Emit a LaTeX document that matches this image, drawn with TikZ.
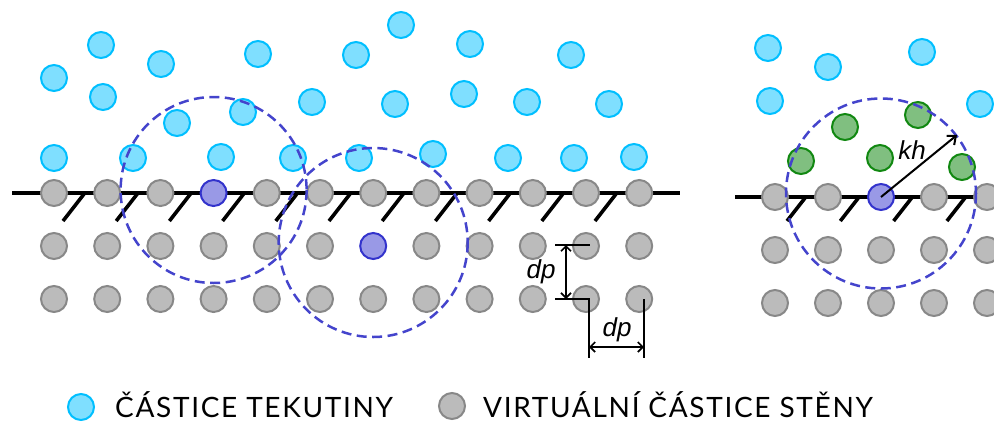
\documentclass[tikz,border=0pt]{standalone}
\usepackage{fontspec}
\setmainfont{Lato}[LetterSpace=6]
\newfontfamily\labelfont{Liberation Sans}
\usetikzlibrary{arrows.meta}
\definecolor{fluidfill}{HTML}{7FDFFF}
\definecolor{fluiddraw}{HTML}{00BFFF}
\definecolor{wallfill}{HTML}{BBBBBB}
\definecolor{walldraw}{HTML}{888888}
\definecolor{bluefill}{HTML}{9999E6}
\definecolor{bluedraw}{HTML}{3333CC}
\definecolor{greenfill}{HTML}{80BF80}
\definecolor{greendraw}{HTML}{118811}
\definecolor{rangecol}{HTML}{4444CC}
\tikzset{
  particle/.style={circle, minimum size=26pt, inner sep=0pt, line width=2pt},
  fluid/.style={particle, fill=fluidfill, draw=fluiddraw},
  wallp/.style={particle, fill=wallfill, draw=walldraw},
  focus/.style={particle, fill=bluefill, draw=bluedraw},
  neigh/.style={particle, fill=greenfill, draw=greendraw},
  wallline/.style={line width=3.6pt, black},
  hatchline/.style={line width=3.6pt, black},
  supportcircle/.style={draw=rangecol, dash pattern=on 10pt off 5.5pt, line width=2.5pt},
  dimline/.style={line width=1.7pt, black},
  dimarrow/.style={line width=1.7pt, black, {Straight Barb[length=5pt,width=10pt]}-{Straight Barb[length=5pt,width=10pt]}},
  radarrow/.style={line width=2pt, black, -{Straight Barb[length=7pt,width=12pt]}},
  lab/.style={font=\labelfont\itshape\fontsize{26}{26}\selectfont, inner sep=0pt},
  legendtext/.style={font=\fontsize{28}{28}\selectfont, inner sep=0pt, anchor=base west},
}
\begin{document}
\begin{tikzpicture}[x=1pt, y=-1pt]
\useasboundingbox (0,0) rectangle (994,424);
\clip (0,0) rectangle (994,424);

% ---------- left panel: wall ----------
\coordinate (wl1) at (12,193);
\coordinate (wl2) at (680,193);
\draw[wallline] (wl1) -- (wl2);
\foreach \k in {0,...,10}
  \draw[hatchline] ({63+53.2*\k},221) -- ({84+53.2*\k},194);

% ---------- right panel: wall ----------
\coordinate (wr1) at (735,197);
\coordinate (wr2) at (994,197);
\draw[wallline] (wr1) -- (wr2);
\foreach \k in {0,...,3}
  \draw[hatchline] ({787+53.3*\k},221) -- ({805+53.3*\k},198);

% ---------- left panel: wall particles ----------
\foreach \r/\y in {1/193,2/246,3/299}
  \foreach \c in {1,...,12}{
    \ifnum\r\c=14 \def\pst{focus}\else\ifnum\r\c=27 \def\pst{focus}\else\def\pst{wallp}\fi\fi
    \node[\pst] (g-\r-\c) at ({54+53.2*(\c-1)},\y) {};
  }

% ---------- right panel: wall particles ----------
\foreach \r/\y in {1/197,2/250,3/303}
  \foreach \c in {1,...,5}{
    \ifnum\r\c=13 \def\pst{focus}\else\def\pst{wallp}\fi
    \node[\pst] (h-\r-\c) at ({775+53*(\c-1)},\y) {};
  }

% ---------- fluid particles ----------
\foreach \x/\y [count=\i] in {54/78,101/45,161/64,103/97,177/123,258/54,243/112,
   356/55,401/25,470/44,312/102,395/104,464/94,54/158,133/158,221/157,293/158,
   359/158,433/154,508/158,571/55,527/102,609/104,574/158,634/157,
   768/48,828/67,922/52,770/101,980/104}
  \node[fluid] (f\i) at (\x,\y) {};

% ---------- neighbour particles ----------
\foreach \x/\y [count=\i] in {801/161,845/127,918/115,880/158,962/167}
  \node[neigh] (n\i) at (\x,\y) {};

% ---------- support domains ----------
\draw[supportcircle] ([yshift=3pt]g-1-4.center) circle[radius=93];
\draw[supportcircle] ([yshift=3.5pt]g-2-7.center) circle[radius=94.5];
\draw[supportcircle] ([yshift=3.5pt]h-1-3.center) circle[radius=95];

% ---------- kh ----------
\coordinate (khend) at (957,135);
\draw[radarrow] (h-1-3.center) -- (khend);
\node[lab] (kh) at (912,150) {kh};

% ---------- dp dimensions ----------
\coordinate (t1) at (555,245);
\coordinate (t1e) at (590,245);
\coordinate (t2) at (555,299);
\coordinate (c1) at (589,299);
\coordinate (d1) at (589,358);
\coordinate (c2) at (644,299);
\coordinate (d2) at (644,358);
\draw[dimline] (t1) -- (t1e);
\draw[dimline] (t2) -- (c1) -- (d1);
\draw[dimline] (c2) -- (d2);
\coordinate (va) at (566,245);
\coordinate (vb) at (566,299);
\draw[dimarrow] (va) -- (vb);
\coordinate (ha) at (589,347);
\coordinate (hb) at (644,347);
\draw[dimarrow] (ha) -- (hb);
\node[lab] (dpv) at (541,272) {dp};
\node[lab] (dph) at (617,330) {dp};

% ---------- legend ----------
\node[fluid] (lf) at (81,407) {};
\node[legendtext] (lft) at (115,417) {ČÁSTICE TEKUTINY};
\node[wallp] (lw) at (452,406) {};
\node[legendtext] (lwt) at (483,417) {VIRTUÁLNÍ ČÁSTICE STĚNY};
\end{tikzpicture}
\end{document}
